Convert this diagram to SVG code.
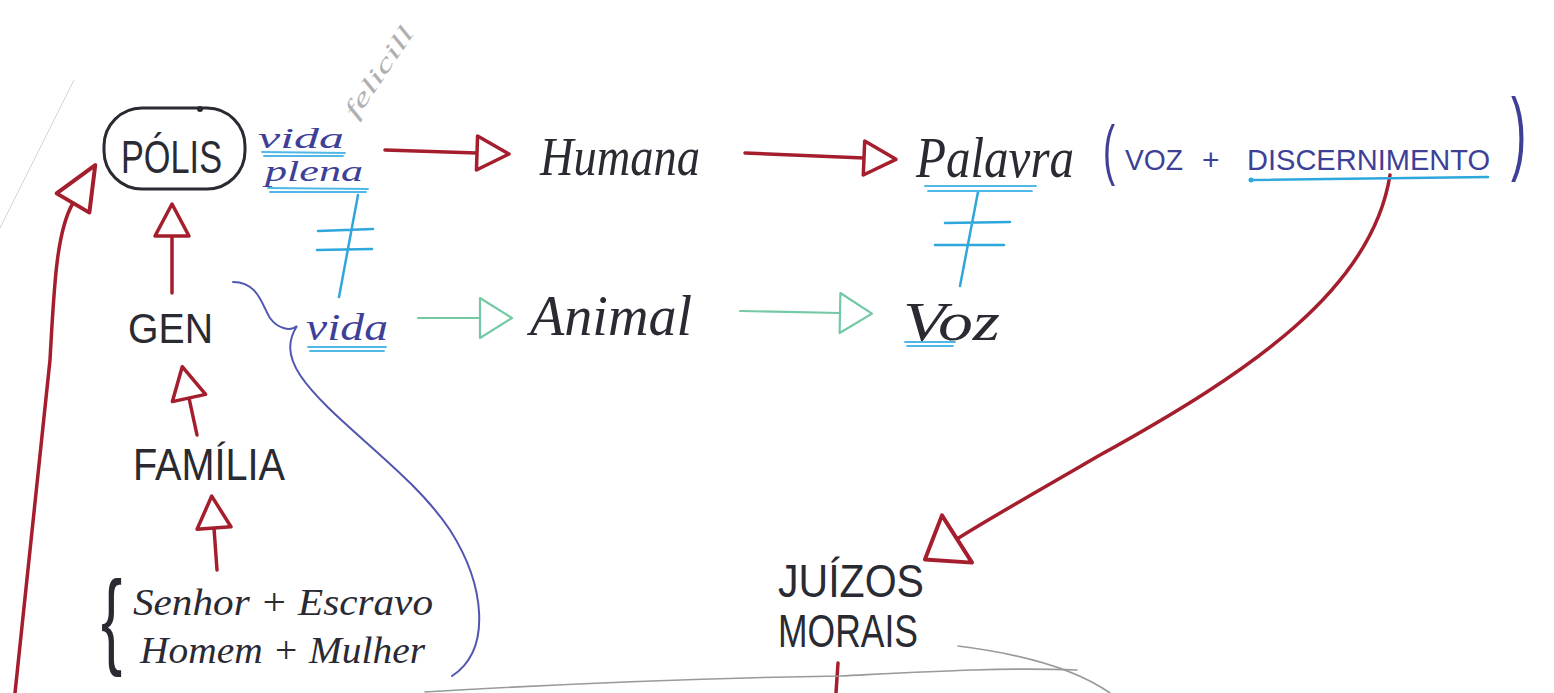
<svg xmlns="http://www.w3.org/2000/svg" width="1554" height="693" viewBox="0 0 1554 693">
<style>
.ink{font-family:"Liberation Sans",Arial,sans-serif;fill:#2a2a33}
.cur{font-family:"Liberation Serif","Times New Roman",serif;font-style:italic;fill:#2a2a33}
.blu{fill:#3e3f97}
.red{fill:none;stroke:#a51e2d;stroke-width:3.5;stroke-linecap:round;stroke-linejoin:round}
.grn{fill:none;stroke:#72c9a4;stroke-width:2.2;stroke-linecap:round}
.lb{fill:none;stroke:#2fa6dc;stroke-width:2.5;stroke-linecap:round}
.ul{fill:none;stroke:#4fb8e6;stroke-width:1.8;stroke-linecap:round}
.bc{fill:none;stroke:#5156b0;stroke-width:2;stroke-linecap:round}
.gr{fill:none;stroke:#9a9a9a;stroke-width:1.6;stroke-linecap:round}
</style>
<defs>
<marker id="hr" viewBox="0 0 32 34" refX="0" refY="17" markerWidth="32" markerHeight="34" markerUnits="userSpaceOnUse" orient="auto" overflow="visible">
<path d="M0,0 L32,17 L0,34 Z" fill="#fff" stroke="#a51e2d" stroke-width="3.5" stroke-linejoin="round"/>
</marker>
<marker id="hrl" viewBox="0 0 44 38" refX="0" refY="19" markerWidth="44" markerHeight="38" markerUnits="userSpaceOnUse" orient="auto" overflow="visible">
<path d="M0,0 L44,19 L0,38 Z" fill="#fff" stroke="#a51e2d" stroke-width="4" stroke-linejoin="round"/>
</marker>
<marker id="hrb" viewBox="0 0 38 56" refX="0" refY="28" markerWidth="38" markerHeight="56" markerUnits="userSpaceOnUse" orient="auto" overflow="visible">
<path d="M0,0 L38,28 L0,56 Z" fill="#fff" stroke="#a51e2d" stroke-width="4" stroke-linejoin="round"/>
</marker>
<marker id="hg" viewBox="0 0 32 40" refX="0" refY="20" markerWidth="32" markerHeight="40" markerUnits="userSpaceOnUse" orient="auto" overflow="visible">
<path d="M0,0 L32,20 L0,40 Z" fill="#fff" stroke="#72c9a4" stroke-width="2.2" stroke-linejoin="round"/>
</marker>
</defs>
<rect width="1554" height="693" fill="#fff"/>
<path d="M0,228 L74,80" stroke="#cfcfe2" stroke-width="1" fill="none"/>

<g id="connectors">
<path class="red" d="M385,150 L477,153" marker-end="url(#hr)"/>
<path class="red" d="M745,153 L864,158" marker-end="url(#hr)"/>
<path class="red" d="M172,293 L172,236" marker-end="url(#hr)"/>
<path class="red" d="M197,435 L189,398" marker-end="url(#hr)"/>
<path class="red" d="M217,570 L214,528" marker-end="url(#hr)"/>
<path class="red" d="M15,693 L50,360 C54,290 56,232 73,203" marker-end="url(#hrl)"/>
<path class="red" d="M1390,175 C1372,290 1250,372 1100,455 C1040,490 990,518 957,539" marker-end="url(#hrb)"/>
<path class="grn" d="M418,318 L480,318" marker-end="url(#hg)"/>
<path class="grn" d="M740,311 L840,313" marker-end="url(#hg)"/>
<path class="lb" d="M358,195 L339,297 M318,231 L373,229 M317,250 L372,249"/>
<path class="lb" d="M978,192 L960,286 M945,223 L1010,222 M935,245 L1004,245"/>
<path class="bc" d="M233,282 C258,282 262,305 270,318 C277,328 290,332 297,326 C288,340 287,355 300,375 C330,420 410,470 450,530 C485,585 492,650 452,676"/>
<path class="red" d="M838,663 L836,693" stroke-width="3"/>
<path class="gr" d="M425,692 C560,684 700,678 840,676 C920,672 1000,667 1077,670"/>
<path class="gr" d="M958,646 C1030,655 1080,672 1110,693"/>
</g>

<g id="polis">
<rect x="104" y="108" width="141" height="81" rx="38" ry="38" fill="none" stroke="#2a2a33" stroke-width="3"/>
<circle cx="200" cy="109" r="3" fill="#2a2a33"/>
<text class="ink" x="121" y="173" font-size="46" textLength="101" lengthAdjust="spacingAndGlyphs">PÓLIS</text>
</g>

<g id="vida-plena">
<text class="cur blu" x="258" y="148" font-size="29" textLength="86" lengthAdjust="spacingAndGlyphs">vida</text>
<path class="ul" d="M262,152 L345,153 M264,156 L343,156"/>
<text class="cur blu" x="265" y="181" font-size="29" textLength="98" lengthAdjust="spacingAndGlyphs">plena</text>
<path class="ul" d="M268,188 L368,189 M270,192 L366,192"/>
</g>

<g id="felicidade">
<text x="0" y="0" font-family="'Liberation Serif',serif" font-style="italic" font-size="24" fill="#b0b0b0" transform="translate(356,120) rotate(-56)" textLength="105" lengthAdjust="spacingAndGlyphs">felicill</text>
</g>

<g id="humana">
<text class="cur" x="540" y="175" font-size="54" textLength="160" lengthAdjust="spacingAndGlyphs">Humana</text>
</g>

<g id="palavra">
<text class="cur" x="916" y="177" font-size="58" textLength="158" lengthAdjust="spacingAndGlyphs">Palavra</text>
<path class="ul" d="M925,186 L1036,186 M928,191 L1032,191"/>
<text class="ink blu" x="0" y="0" font-size="66" transform="translate(1103,172) scale(0.55,1)">(</text>
<text class="ink blu" x="1125" y="170" font-size="30" textLength="58" lengthAdjust="spacingAndGlyphs">VOZ</text>
<text class="ink blu" x="1202" y="170" font-size="30">+</text>
<text class="ink blu" x="1247" y="170" font-size="30" textLength="243" lengthAdjust="spacingAndGlyphs">DISCERNIMENTO</text>
<path class="lb" d="M1250,180 L1488,177" stroke-width="2"/>
<circle cx="1251" cy="180" r="2.5" fill="#2fa6dc"/>
<text class="ink blu" x="0" y="0" font-size="92" transform="translate(1511,163) scale(0.5,1)">)</text>
</g>

<g id="vida">
<text class="cur blu" x="306" y="340" font-size="38" textLength="82" lengthAdjust="spacingAndGlyphs">vida</text>
<path class="ul" d="M308,347 L386,347 M310,351 L384,351"/>
</g>

<g id="animal">
<text class="cur" x="530" y="335" font-size="56" textLength="162" lengthAdjust="spacingAndGlyphs">Animal</text>
</g>

<g id="voz">
<text class="cur" x="903" y="340" font-size="54" textLength="97" lengthAdjust="spacingAndGlyphs">Voz</text>
<path class="ul" d="M905,342 L955,342 M907,346 L953,346"/>
</g>

<g id="gen">
<text class="ink" x="128" y="343" font-size="42" textLength="85" lengthAdjust="spacingAndGlyphs">GEN</text>
</g>

<g id="familia">
<text class="ink" x="133" y="480" font-size="44" textLength="152" lengthAdjust="spacingAndGlyphs">FAMÍLIA</text>
</g>

<g id="membros">
<text class="ink" x="0" y="0" font-size="106" transform="translate(101,655) scale(0.6,1)">{</text>
<text class="cur" x="133" y="615" font-size="38" textLength="300" lengthAdjust="spacingAndGlyphs">Senhor + Escravo</text>
<text class="cur" x="140" y="663" font-size="38" textLength="285" lengthAdjust="spacingAndGlyphs">Homem + Mulher</text>
</g>

<g id="juizos">
<text class="ink" x="778" y="597" font-size="46" textLength="146" lengthAdjust="spacingAndGlyphs">JUÍZOS</text>
<text class="ink" x="778" y="647" font-size="46" textLength="140" lengthAdjust="spacingAndGlyphs">MORAIS</text>
</g>
</svg>
